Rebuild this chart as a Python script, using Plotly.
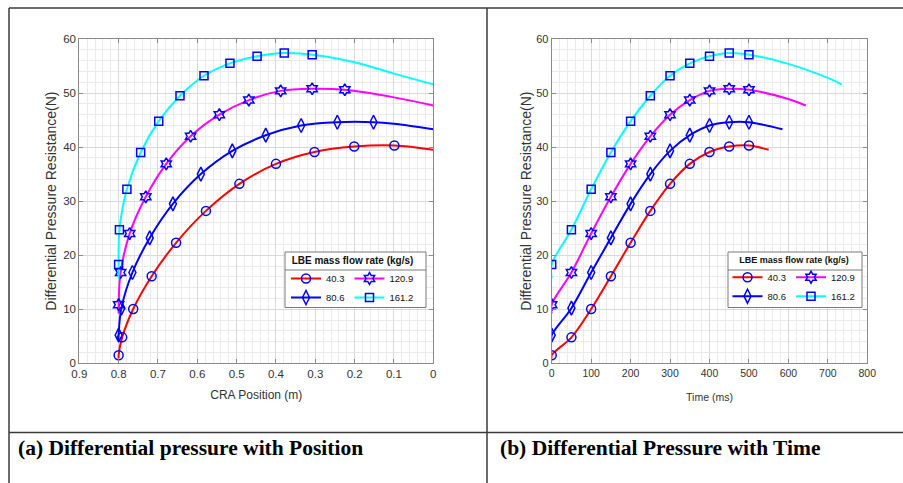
import plotly.graph_objects as go

# ---------------- data ----------------
series_names = ["40.3", "80.6", "120.9", "161.2"]

# marker abscissae on the time chart (ms)
time_marks = [0, 50, 100, 150, 200, 250, 300, 350, 400, 450, 500]

# differential pressure resistance (N) at the marker points
dp_403 = [1.5, 4.8, 10.05, 16.1, 22.3, 28.2, 33.2, 36.9, 39.1, 40.1, 40.3]
dp_806 = [5.2, 10.2, 16.8, 23.2, 29.5, 35.0, 39.3, 42.2, 44.0, 44.6, 44.6]
dp_1209 = [10.85, 16.8, 24.0, 30.8, 36.9, 42.0, 46.0, 48.7, 50.4, 50.8, 50.6]
dp_1612 = [18.3, 24.7, 32.2, 39.0, 44.8, 49.5, 53.2, 55.5, 56.8, 57.4, 57.1]

# CRA position (m) at the marker points
pos_403 = [0.800, 0.791, 0.763, 0.716, 0.654, 0.578, 0.493, 0.400, 0.302, 0.201, 0.099]
pos_806 = [0.800, 0.793, 0.765, 0.721, 0.662, 0.591, 0.511, 0.426, 0.336, 0.244, 0.152]
pos_1209 = [0.800, 0.795, 0.772, 0.731, 0.679, 0.617, 0.544, 0.469, 0.388, 0.308, 0.225]
pos_1612 = [0.800, 0.798, 0.779, 0.744, 0.698, 0.644, 0.583, 0.517, 0.448, 0.379, 0.308]

# curve start value (at t = 0 / position 0.8), below the first marker
start_dp = [0.9, 4.3, 9.2, 15.7]

# curve tails beyond the last marker (time chart)
tail_t_403, tail_dp_t_403 = [550], [39.5]
tail_t_806, tail_dp_t_806 = [585], [43.3]
tail_t_1209, tail_dp_t_1209 = [600, 644], [48.9, 47.7]
tail_t_1612, tail_dp_t_1612 = [600, 700, 735], [55.4, 52.8, 51.6]

# curve tails beyond the last marker (position chart)
tail_p_403, tail_dp_p_403 = [0.0], [39.5]
tail_p_806, tail_dp_p_806 = [0.1, 0.0], [44.3, 43.3]
tail_p_1209, tail_dp_p_1209 = [0.1, 0.0], [49.2, 47.7]
tail_p_1612, tail_dp_p_1612 = [0.2, 0.1, 0.0], [55.7, 53.6, 51.6]

# ---------------- styling ----------------
W, H = 903, 483
def px(x):
    return x / W
def py(y):
    return 1 - y / H

SANS = "Liberation Sans, Arial, sans-serif"
SERIF = "Liberation Serif, Times New Roman, serif"
LINE_COLORS = ["#ff0000", "#0000ff", "#ff00ff", "#00ffff"]
SYMBOLS = ["circle-open", "diamond-tall-open", "hexagram-open", "square-open"]
SIZES = [9, 10, 9, 8]
MARK_COLOR = "#0000ff"
GRID = "#d9d9d9"
MINOR = "#ebebeb"
FRAME = "#8a8a8a"
TICKTXT = "#333333"
LEG_BORDER = "#7a7a7a"

dp_all = [dp_403, dp_806, dp_1209, dp_1612]
pos_all = [pos_403, pos_806, pos_1209, pos_1612]
tails_t = [(tail_t_403, tail_dp_t_403), (tail_t_806, tail_dp_t_806),
           (tail_t_1209, tail_dp_t_1209), (tail_t_1612, tail_dp_t_1612)]
tails_p = [(tail_p_403, tail_dp_p_403), (tail_p_806, tail_dp_p_806),
           (tail_p_1209, tail_dp_p_1209), (tail_p_1612, tail_dp_p_1612)]

fig = go.Figure()

def add_series(xa, ya, legend_id, group_prefix, x_marks_list, tails, x_start):
    for i, name in enumerate(series_names):
        xm = x_marks_list[i]
        ym = dp_all[i]
        tx, ty = tails[i]
        x_line = [x_start] + list(xm) + list(tx)
        y_line = [start_dp[i]] + list(ym) + list(ty)
        grp = group_prefix + ("a" if i in (0, 1) else "b")
        # smooth curve
        fig.add_trace(go.Scatter(
            x=x_line, y=y_line, mode="lines", xaxis=xa, yaxis=ya,
            line=dict(color=LINE_COLORS[i], width=2, shape="spline", smoothing=1.0),
            showlegend=False, legendgroup=grp, legend=legend_id, hoverinfo="skip"))
        # markers
        fig.add_trace(go.Scatter(
            x=list(xm), y=list(ym), mode="markers", xaxis=xa, yaxis=ya,
            marker=dict(symbol=SYMBOLS[i], size=SIZES[i], color=MARK_COLOR,
                        line=dict(color=MARK_COLOR, width=1.5)),
            showlegend=False, legendgroup=grp, legend=legend_id))
        # legend entry (line + marker)
        fig.add_trace(go.Scatter(
            x=[None], y=[None], mode="lines+markers", xaxis=xa, yaxis=ya,
            name=name, legendgroup=grp, legend=legend_id,
            line=dict(color=LINE_COLORS[i], width=2),
            marker=dict(symbol=SYMBOLS[i], size=SIZES[i], color=MARK_COLOR,
                        line=dict(color=MARK_COLOR, width=1.5))))

add_series("x", "y", "legend", "L", pos_all, tails_p, 0.8)
add_series("x2", "y2", "legend2", "R", [time_marks] * 4, tails_t, 0)

def axis_common(tick_size, dtick, minor_dtick):
    return dict(
        dtick=dtick, tick0=0, showgrid=True, gridcolor=GRID, gridwidth=1,
        minor=dict(dtick=minor_dtick, showgrid=True, gridcolor=MINOR, gridwidth=1),
        showline=True, linecolor=FRAME, linewidth=1, mirror="ticks",
        ticks="inside", ticklen=4, tickcolor=FRAME, tickwidth=1,
        tickfont=dict(family=SANS, size=tick_size, color=TICKTXT),
        zeroline=False, automargin=False)

ytitle = "Differential Pressure Resistance(N)"
LEG_TITLE = "<b>LBE mass flow rate (kg/s)</b>"

def legend_style(x_right, font_size, title_size):
    return dict(x=px(x_right), xanchor="right", y=py(251), yanchor="top",
                orientation="h", traceorder="grouped", itemwidth=30,
                bgcolor="rgba(0,0,0,0)", borderwidth=0,
                font=dict(family=SANS, size=font_size, color="#111111"),
                title=dict(text=LEG_TITLE, side="top center",
                           font=dict(family=SANS, size=title_size, color="#111111")))

fig.update_layout(
    width=W, height=H, margin=dict(l=0, r=0, t=0, b=0),
    paper_bgcolor="white", plot_bgcolor="white",
    xaxis=dict(domain=[px(79.3), px(433.3)], range=[0.9, 0], anchor="y",
               title=dict(text="CRA Position (m)", font=dict(family=SANS, size=12, color=TICKTXT), standoff=11),
               **axis_common(11.5, 0.1, 0.02)),
    yaxis=dict(domain=[py(363.3), py(39)], range=[0, 60], anchor="x",
               title=dict(text=ytitle, font=dict(family=SANS, size=14, color=TICKTXT), standoff=3),
               **axis_common(11.5, 10, 2)),
    xaxis2=dict(domain=[px(551.7), px(867.3)], range=[0, 800], anchor="y2",
                title=dict(text="Time (ms)", font=dict(family=SANS, size=10.5, color=TICKTXT), standoff=15),
                **axis_common(10.5, 100, 20)),
    yaxis2=dict(domain=[py(363.3), py(39)], range=[0, 60], anchor="x2",
                title=dict(text=ytitle, font=dict(family=SANS, size=14, color=TICKTXT), standoff=1),
                **axis_common(11, 10, 2)),
    legend=legend_style(419, 9.5, 10),
    legend2=legend_style(860.5, 9.5, 9),
    showlegend=True,
)

# legend boxes (white background, border and title separator)
for x0, x1 in [(285, 426), (728, 862)]:
    fig.add_shape(type="rect", xref="paper", yref="paper", layer="above",
                  x0=px(x0), y0=py(252), x1=px(x1), y1=py(307.5),
                  fillcolor="white", line=dict(color=LEG_BORDER, width=1))
    fig.add_shape(type="line", xref="paper", yref="paper", layer="above",
                  x0=px(x0), y0=py(270), x1=px(x1), y1=py(270),
                  line=dict(color=LEG_BORDER, width=1))

# table frame around the two panels and captions
TABLE = "#3a3a3a"
table_lines = [
    (9, 8, W, 8), (9, 8, 9, H), (487, 8, 487, H), (9, 432.5, W, 432.5),
]
for x0, y0, x1, y1 in table_lines:
    fig.add_shape(type="line", xref="paper", yref="paper",
                  x0=px(x0), y0=py(y0), x1=px(x1), y1=py(y1),
                  line=dict(color=TABLE, width=1.5))

captions = [("(a) Differential pressure with Position", 16),
            ("(b) Differential Pressure with Time", 498)]
for text, xpos in captions:
    fig.add_annotation(text="<b>" + text + "</b>", xref="paper", yref="paper",
                       x=px(xpos), y=py(448), xanchor="left", yanchor="middle",
                       showarrow=False, font=dict(family=SERIF, size=21.5, color="#000000"))

fig.write_html("out.html", config={"displayModeBar": False},
               post_script="document.body.style.margin='0';")
